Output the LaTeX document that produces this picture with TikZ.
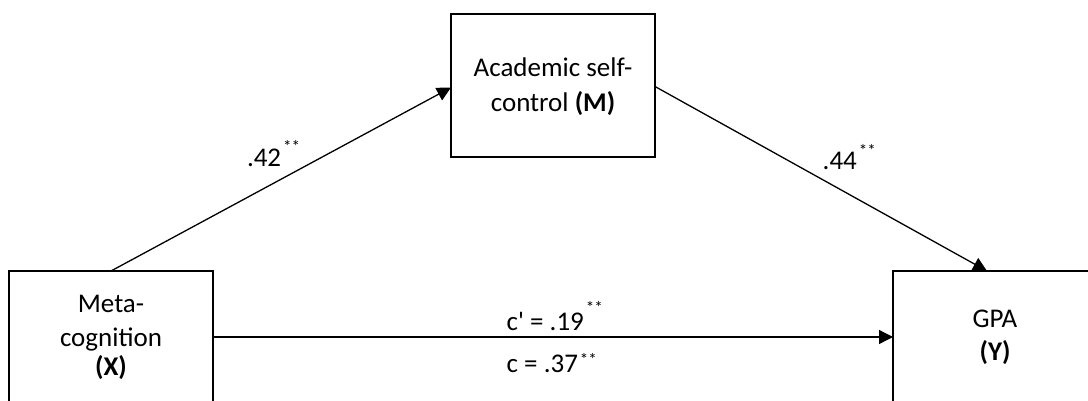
\documentclass[tikz,border=0pt]{standalone}
\usepackage{fontspec}
\setmainfont{Carlito}[Ligatures=TeXOff]
\usetikzlibrary{arrows.meta}
\newcommand\mystars[1]{\hspace{2pt}\raisebox{#1pt}{\fontsize{17}{17}\selectfont **}}
\tikzset{
  box/.style={draw, line width=2.6pt, minimum width=204pt, inner sep=0pt, outer sep=0pt},
  txt/.style={font=\fontsize{27}{31}\selectfont, inner sep=0pt, outer sep=0pt, anchor=base},
  lbl/.style={font=\fontsize{27}{31}\selectfont, inner sep=0pt, outer sep=0pt, anchor=base west},
  conn/.style={line width=1.3pt, -{Triangle[length=14pt,width=14pt]}}
}
\begin{document}
\begin{tikzpicture}[x=1pt,y=-1pt]
\clip (0,0) rectangle (1088,400);
\fill[white] (0,0) rectangle (1088,400);
% boxes
\node[box, minimum height=136pt] (X) at (111,339) {};
\node[box, minimum height=143pt] (M) at (553,85.5) {};
\node[box, minimum height=136pt] (Y) at (995,339) {};
% box texts
\node[txt] (x1) at (111,312) {Meta-};
\node[txt] (x2) at (111,346) {cognition};
\node[txt] (x3) at (111,375) {\textbf{(X)}};
\node[txt] (m1) at (553,76.7) {Academic self-};
\node[txt] (m2) at (553,111.7) {control \textbf{(M)}};
\node[txt] (y1) at (995,327) {GPA};
\node[txt] (y2) at (995,360) {\textbf{(Y)}};
% connectors
\draw[conn] (X.north) -- ([yshift=-2pt]M.west);
\draw[conn] ([yshift=-1pt]M.east) -- ([xshift=-8pt]Y.north);
\draw[conn] ([yshift=2pt]X.east) -- ([yshift=2pt]Y.west);
% labels
\node[lbl] (a) at (247,166.5) {.42\mystars{14}};
\node[lbl] (b) at (822.7,169) {.44\mystars{13}};
\node[lbl] (cp) at (506.7,330) {c' = .19\mystars{17}};
\node[lbl] (c) at (506.7,372) {c = .37\mystars{7}};
\end{tikzpicture}
\end{document}
